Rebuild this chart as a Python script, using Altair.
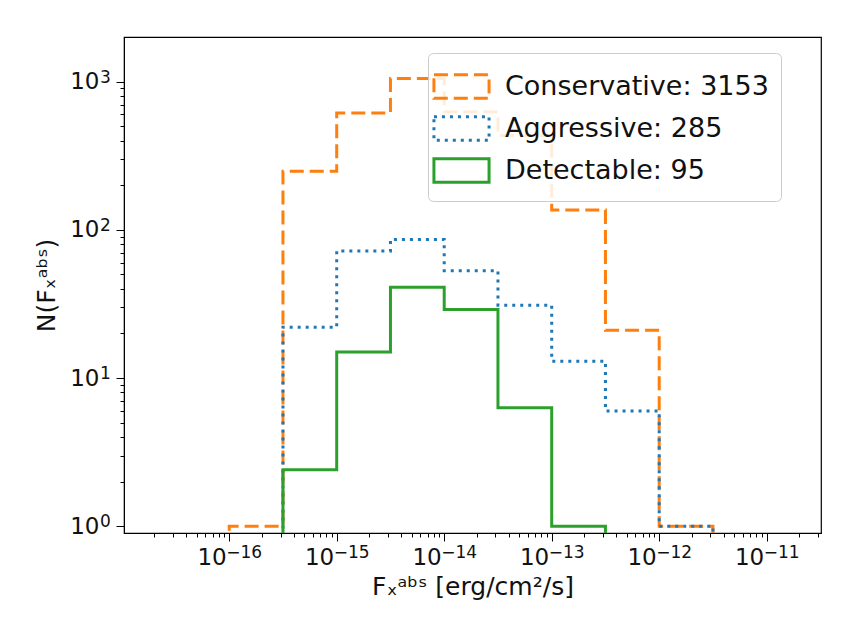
import altair as alt
import pandas as pd

# ---- data -------------------------------------------------------------
bin_edge_exponents = [-16.0, -15.5, -15.0, -14.5, -14.0, -13.5, -13.0, -12.5, -12.0, -11.5]
series_names = ["Conservative: 3153", "Aggressive: 285", "Detectable: 95"]
conservative = [1, 248, 615, 1050, 625, 433, 136, 21, 1]
aggressive = [0, 22, 72, 86, 53, 31, 13, 6, 1]
detectable = [0, 2.4, 15, 41, 29, 6.3, 1, 0, 0]
series_counts = [conservative, aggressive, detectable]
series_colors = ["#ff7f0e", "#1f77b4", "#2ca02c"]
series_dashes = [[14, 6], [3, 5], [1, 0]]

x_major_exp = [-16, -15, -14, -13, -12, -11]
y_major_exp = [0, 1, 2, 3]
x_domain = [1.05e-17, 3.2e-11]
y_domain = [0.9, 2000]

W, H = 697, 496
FONT = "DejaVu Sans"
BASE_FS = 23   # size of the "10" in tick labels
EXP_FS = 17    # size of the exponent
TITLE_FS = 25

# ---- build step outlines (histtype='step') -------------------------------
FLOOR = 1e-3  # zero counts drop below the log axis and are clipped
rows = []
for name, counts in zip(series_names, series_counts):
    edges = [10 ** e for e in bin_edge_exponents]
    pts = [(edges[0], FLOOR)]
    for i, c in enumerate(counts):
        pts.append((edges[i], c if c > 0 else FLOOR))
    pts.append((edges[-1], counts[-1] if counts[-1] > 0 else FLOOR))
    pts.append((edges[-1], FLOOR))
    for k, (x, y) in enumerate(pts):
        rows.append({"series": name, "flux": x, "n": y, "order": k})
df = pd.DataFrame(rows)

# exponent labels (drawn as text next to the "10" axis labels)
def exp_str(e):
    return str(e).replace("-", "\u2212")

x_exp_df = pd.DataFrame({"flux": [10.0 ** e for e in x_major_exp],
                         "t": [exp_str(e) for e in x_major_exp]})
y_exp_df = pd.DataFrame({"n": [10.0 ** e for e in y_major_exp],
                         "t": [exp_str(e) for e in y_major_exp]})

# ---- tick helpers ------------------------------------------------------
def ticks(major_exp, lo, hi):
    vals = []
    for e in range(min(major_exp) - 1, max(major_exp) + 1):
        for k in range(1, 10):
            v = k * 10.0 ** e
            if lo < v < hi:
                vals.append(v)
    return vals


is_major = "abs(log(datum.value)/LN10 - round(log(datum.value)/LN10)) < 0.001"
tick_size = {"condition": {"test": is_major, "value": 8}, "value": 4}
label_10 = f"{is_major} ? '10' : ''"

x_scale = alt.Scale(type="log", domain=x_domain, nice=False)
y_scale = alt.Scale(type="log", domain=y_domain, nice=False)

x_axis = alt.Axis(
    values=ticks(x_major_exp, *x_domain),
    labelExpr=label_10, labelAlign="right", labelOffset=-3,
    tickSize=tick_size,
    labelFontSize=BASE_FS, labelFont=FONT, labelColor="#111", labelPadding=5,
    labelOverlap=False, labelFlush=False,
    title="F\u2093\u1d43\u1d47\u02e2 [erg/cm\u00b2/s]",
    titleFontSize=TITLE_FS, titleFont=FONT, titleFontWeight="normal", titleColor="#111",
    titlePadding=5, grid=False, domainColor="black", tickColor="black",
)
y_axis = alt.Axis(
    values=ticks(y_major_exp, *y_domain),
    labelExpr=label_10,
    tickSize=tick_size,
    labelFontSize=BASE_FS, labelFont=FONT, labelColor="#111", labelPadding=17,
    labelOverlap=False, labelFlush=False,
    title="N(F\u2093\u1d43\u1d47\u02e2)",
    titleFontSize=TITLE_FS, titleFont=FONT, titleFontWeight="normal", titleColor="#111",
    titlePadding=10, grid=False, domainColor="black", tickColor="black",
)

color_scale = alt.Scale(domain=series_names, range=series_colors)
dash_scale = alt.Scale(domain=series_names, range=series_dashes)
legend = alt.Legend(
    title=None, orient="none", legendX=304, legendY=16,
    labelFontSize=27, labelFont=FONT, labelColor="#111", labelOffset=22, labelLimit=0,
    symbolType="M-1.4,-0.6H1.4V0.6H-1.4Z", symbolSize=1550, symbolStrokeWidth=3,
    symbolFillColor="transparent", rowPadding=2, padding=12,
    strokeColor="#cccccc", cornerRadius=5, fillColor="rgba(255,255,255,0.85)",
)

layers = []
for i, name in enumerate(series_names):
    layers.append(
        alt.Chart(df)
        .transform_filter(alt.datum.series == name)
        .mark_line(interpolate="step-after", strokeWidth=3, clip=True)
        .encode(
            x=alt.X("flux:Q", scale=x_scale, axis=x_axis),
            y=alt.Y("n:Q", scale=y_scale, axis=y_axis),
            color=alt.Color("series:N", scale=color_scale, legend=legend),
            strokeDash=alt.StrokeDash("series:N", scale=dash_scale, legend=legend),
            order="order:Q",
        )
    )

x_exp = (
    alt.Chart(x_exp_df)
    .mark_text(align="left", baseline="top", dx=-3, fontSize=EXP_FS, font=FONT, color="#111")
    .encode(x=alt.X("flux:Q", scale=x_scale), y=alt.value(H + 12), text="t:N")
)
y_exp = (
    alt.Chart(y_exp_df)
    .mark_text(align="left", baseline="top", dy=-12, fontSize=EXP_FS, font=FONT, color="#111")
    .encode(y=alt.Y("n:Q", scale=y_scale), x=alt.value(-24), text="t:N")
)

chart = (
    alt.layer(*layers, x_exp, y_exp)
    .properties(width=W, height=H, background="white",
                padding={"left": 26, "top": 29, "right": 5, "bottom": 5})
    .configure_view(stroke="black", strokeWidth=1.2)
)

chart.save("out.html", embed_options={"renderer": "svg", "actions": False})
